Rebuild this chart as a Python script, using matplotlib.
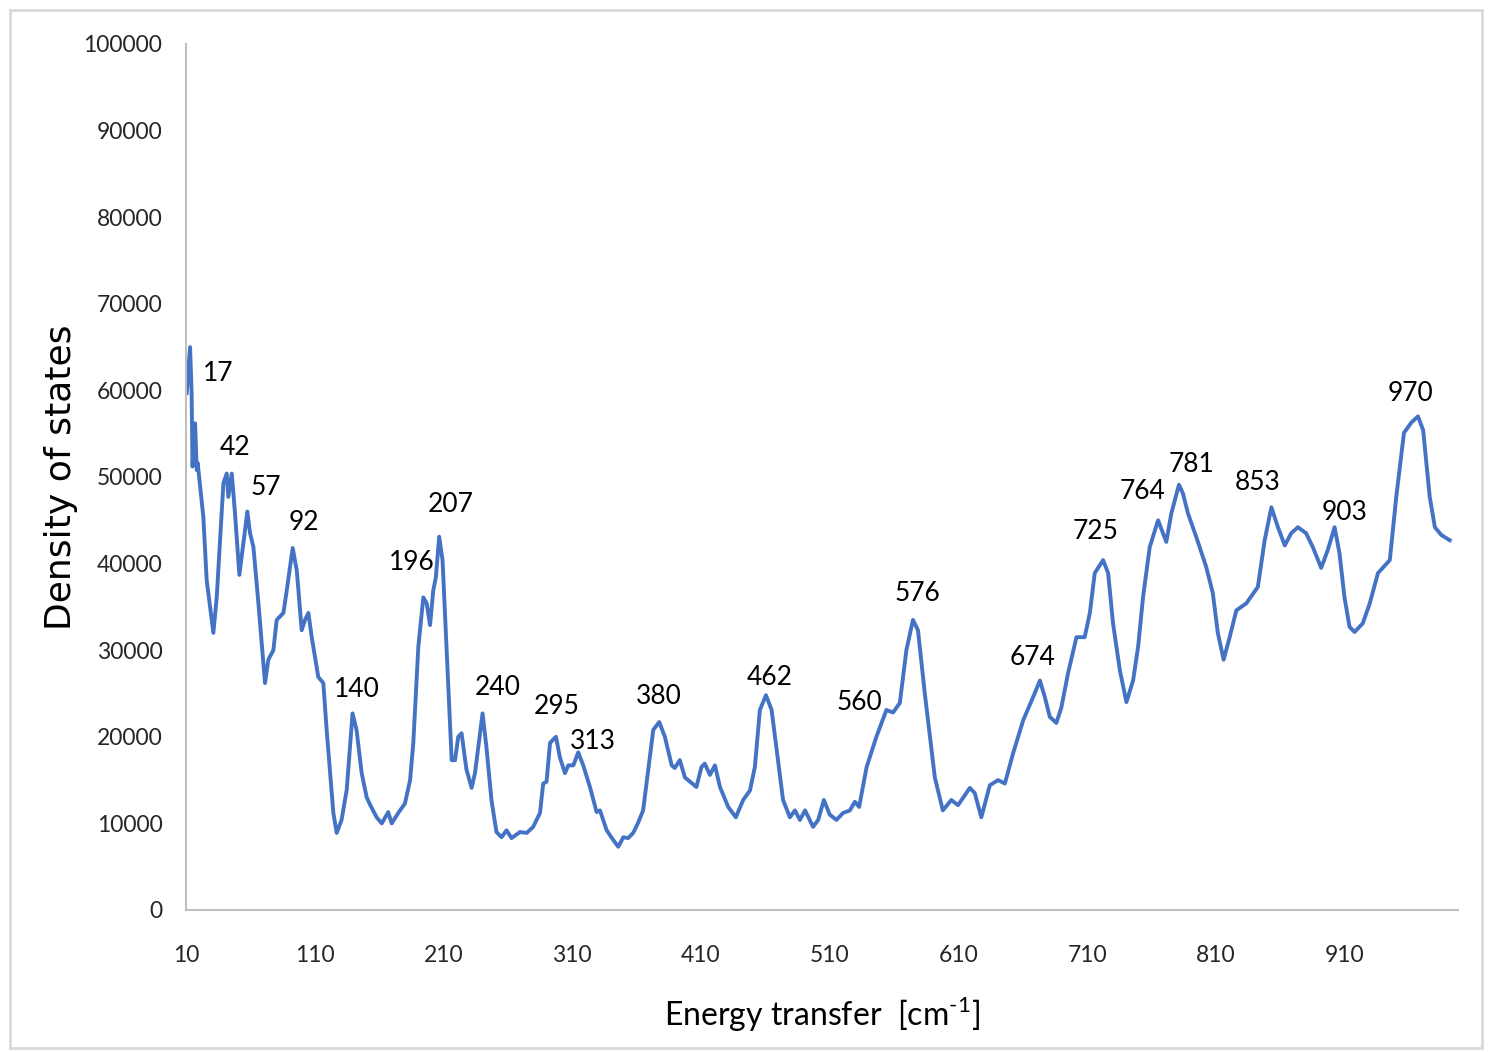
import numpy as np
import matplotlib.pyplot as plt
from matplotlib.patches import Rectangle

energia = [
    10.5, 13.1, 14.3, 15.0, 17.0, 18.3, 19.0, 23.4, 26.0, 31.2, 33.8, 39.0, 41.6, 42.8, 45.5,
    48.0, 51.4, 54.5, 57.6, 59.7, 62.3, 66.2, 71.3, 73.9, 77.8, 80.4, 85.6, 88.2, 92.8, 96.0,
    99.8, 102.4, 105.0, 107.6, 112.7, 116.6, 119.2, 124.4, 127.0, 130.8, 134.8, 139.3, 142.4,
    146.4, 150.3, 152.8, 158.0, 162.0, 167.0, 169.7, 174.8, 180.0, 184.0, 186.5, 190.4, 194.3,
    196.9, 199.5, 202.0, 204.0, 206.6, 209.2, 212.3, 216.3, 218.9, 221.4, 224.0, 227.8, 231.8,
    234.4, 240.3, 243.3, 247.2, 251.1, 255.0, 258.9, 262.8, 269.3, 274.6, 279.6, 284.9, 287.4,
    290.0, 292.7, 297.3, 300.4, 304.3, 306.9, 310.8, 314.6, 318.5, 323.7, 328.9, 331.5, 336.7,
    341.7, 345.7, 349.6, 353.4, 357.3, 361.2, 365.0, 369.0, 372.9, 377.5, 381.9, 387.2, 389.6,
    393.5, 397.5, 406.4, 410.3, 412.9, 416.9, 420.8, 424.7, 431.1, 437.0, 442.7, 448.0, 451.8,
    455.7, 460.4, 464.8, 469.8, 473.7, 479.0, 482.9, 486.8, 490.8, 497.0, 501.0, 505.4, 510.0,
    515.2, 520.3, 525.6, 529.5, 532.8, 538.6, 546.2, 554.0, 559.1, 564.4, 569.5, 574.6, 578.5,
    583.8, 591.6, 597.8, 604.4, 609.6, 618.8, 622.6, 627.7, 634.3, 640.7, 646.0, 652.4, 660.2,
    668.0, 673.2, 677.0, 680.9, 686.0, 689.9, 695.0, 701.6, 708.0, 712.0, 715.8, 722.3, 726.2,
    730.0, 735.3, 740.4, 745.6, 749.5, 753.3, 758.5, 765.0, 771.4, 775.3, 781.2, 784.3, 788.2,
    794.6, 802.4, 807.5, 811.4, 815.9, 820.6, 825.8, 833.5, 842.5, 847.8, 853.0, 858.1, 863.4,
    868.4, 873.6, 880.0, 885.2, 891.7, 896.9, 902.1, 905.9, 909.8, 913.7, 917.6, 924.0, 929.4,
    935.8, 945.0, 950.0, 956.0, 961.8, 966.9, 970.9, 976.0, 980.0, 985.0, 991.5,
]
densidad = [
    59700, 65000, 59700, 51200, 56200, 50800, 51600, 45400, 38100, 32000, 36100, 49300, 50400, 47700, 50400,
    45800, 38700, 42400, 46000, 43500, 41900, 35400, 26200, 28900, 30000, 33500, 34300, 36900, 41800, 39200,
    32300, 33500, 34300, 31500, 26900, 26200, 20800, 11200, 8900, 10400, 13900, 22700, 20800,
    15800, 13000, 12200, 10700, 10000, 11300, 10000, 11200, 12300, 15000, 19300, 30400, 36100,
    35400, 32900, 36900, 38400, 43100, 40400, 30400, 17300, 17300, 20000, 20400, 16200, 14100,
    15800, 22700, 18800, 12700, 9000, 8400, 9200, 8300, 9000, 8900, 9600, 11200, 14600,
    14800, 19300, 20000, 17600, 15800, 16700, 16700, 18200, 16700, 14200, 11300, 11500, 9200,
    8100, 7300, 8400, 8300, 8900, 10100, 11500, 16200, 20800, 21700, 20000, 16700, 16400,
    17300, 15300, 14200, 16500, 16900, 15600, 16700, 14200, 11900, 10700, 12700, 13800, 16500,
    23100, 24800, 23100, 17300, 12700, 10700, 11500, 10400, 11500, 9600, 10400, 12700, 11000,
    10400, 11200, 11500, 12500, 11900, 16500, 20000, 23100, 22800, 23900, 30000, 33500, 32300,
    25000, 15300, 11500, 12700, 12100, 14100, 13500, 10700, 14400, 15000, 14600, 18100, 21900,
    24600, 26500, 24600, 22300, 21600, 23400, 27300, 31500, 31500, 34300, 38900, 40400, 38900,
    33100, 27700, 24000, 26500, 30400, 36100, 41900, 45000, 42500, 45800, 49100, 48100, 45800,
    43100, 39600, 36600, 32000, 28900, 31500, 34600, 35400, 37300, 42700, 46500, 44200, 42100,
    43500, 44200, 43500, 41900, 39500, 41600, 44200, 41200, 36100, 32700, 32100, 33100, 35400,
    38900, 40400, 47700, 55100, 56300, 57000, 55400, 47700, 44200, 43300, 42700,
]

# Etiquetas de los picos y donde se escriben
picos = ["17", "42", "57", "92", "140", "196", "207", "240", "295", "313", "380",
         "462", "560", "576", "674", "725", "764", "781", "853", "903", "970"]
picos_x = [34.8, 48.0, 72.0, 101.6, 142.8, 185.5, 215.8, 252.3, 298.0, 326.0, 377.3,
           463.5, 533.4, 578.4, 667.7, 716.6, 753.0, 791.2, 842.4, 910.0, 961.2]
picos_y = [61900, 53350, 48750, 44800, 25500, 40100, 46800, 25650, 23450, 19500, 24600,
           26900, 24000, 36600, 29100, 43750, 48300, 51400, 49400, 45950, 59600]

xticks = np.arange(10, 911, 100)
yticks = np.arange(0, 100001, 10000)

plt.rcParams['font.family'] = ['Lato', 'DejaVu Sans']
plt.rcParams['mathtext.fontset'] = 'custom'
plt.rcParams['mathtext.rm'] = 'Lato'

fig = plt.figure(figsize=(14.91, 10.52), dpi=100)
ax = fig.add_axes([0.1248, 0.135, 0.8531, 0.8232])

ax.plot(energia, densidad, color='#4472C4', linewidth=2.8, solid_joinstyle='round')

for t, x, y in zip(picos, picos_x, picos_y):
    ax.text(x, y, t, ha='center', va='center', fontsize=19, color='black')

ax.set_xlim(10, 998)
ax.set_ylim(0, 100000)
ax.set_xticks(xticks)
ax.set_yticks(yticks)
ax.tick_params(length=0, labelsize=16.5, colors='#262626')
ax.tick_params(axis='y', pad=17)
ax.tick_params(axis='x', pad=25)

for lado in ['top', 'right']:
    ax.spines[lado].set_visible(False)
for lado in ['left', 'bottom']:
    ax.spines[lado].set_color('#bfbfbf')
    ax.spines[lado].set_linewidth(1.5)

ax.set_xlabel(r'Energy transfer  [cm$^{\text{-1}}$]', fontsize=23, labelpad=21)
ax.set_ylabel('Density of states', fontsize=26, family='DejaVu Sans', labelpad=4)

# Marco gris alrededor de la figura
fig.patches.append(Rectangle((10 / 1491, 4 / 1052), 1472 / 1491, 1038 / 1052,
                             transform=fig.transFigure, fill=False,
                             edgecolor='#d9d9d9', linewidth=2))

plt.savefig('out.png', dpi=100)
